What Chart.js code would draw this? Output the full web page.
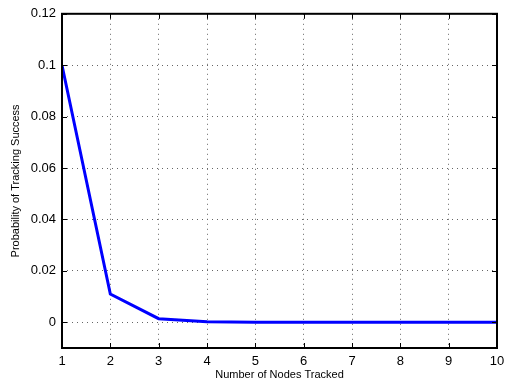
<!DOCTYPE html>
<html>
<head>
<meta charset="utf-8">
<script src="https://cdn.jsdelivr.net/npm/chart.js@4"></script>
<style>
  html, body { margin: 0; padding: 0; background: #fff; }
  #wrap { width: 512px; height: 389px; }
</style>
</head>
<body>
<div id="wrap"><canvas id="chart" width="512" height="389"></canvas></div>
<script>
// data
const nodes = [1, 2, 3, 4, 5, 6, 7, 8, 9, 10];
const success = [0.1, 0.011, 0.0014, 0.0002, 0.00002, 0, 0, 0, 0, 0];
const xTicks = [1, 2, 3, 4, 5, 6, 7, 8, 9, 10];
const yTicks = [0, 0.02, 0.04, 0.06, 0.08, 0.1, 0.12];

// box around plot + inward tick marks, matlab style
const boxPlugin = {
    id: "box",
    afterDraw(chart) {
        const ctx = chart.ctx;
        const a = chart.chartArea;
        const xs = chart.scales.x, ys = chart.scales.y;
        ctx.save();
        ctx.strokeStyle = "#000";
        ctx.lineWidth = 1;
        ctx.setLineDash([]);
        ctx.beginPath();
        xTicks.forEach(v => {
            const px = Math.round(xs.getPixelForValue(v)) + 0.5;
            ctx.moveTo(px, a.bottom); ctx.lineTo(px, a.bottom - 5);
            ctx.moveTo(px, a.top); ctx.lineTo(px, a.top + 5);
        });
        yTicks.forEach(v => {
            const py = Math.round(ys.getPixelForValue(v)) + 0.5;
            ctx.moveTo(a.left, py); ctx.lineTo(a.left + 5, py);
            ctx.moveTo(a.right, py); ctx.lineTo(a.right - 5, py);
        });
        ctx.stroke();
        ctx.lineWidth = 2;
        ctx.strokeRect(a.left, a.top, a.right - a.left, a.bottom - a.top);
        ctx.restore();
    }
};

const font = "'Liberation Sans', Arial, Helvetica, sans-serif";

new Chart(document.getElementById("chart").getContext("2d"), {
    type: "line",
    data: {
        datasets: [{
            data: nodes.map((n, i) => ({ x: n, y: success[i] })),
            borderColor: "#0000ff",
            borderWidth: 3,
            pointRadius: 0,
            tension: 0,
            fill: false
        }]
    },
    options: {
        responsive: false,
        animation: false,
        layout: { padding: { left: 9, right: 15, top: 5, bottom: 0 } },
        plugins: { legend: { display: false }, tooltip: { enabled: false } },
        scales: {
            x: {
                type: "linear",
                min: 1,
                max: 10,
                afterBuildTicks: s => { s.ticks = xTicks.map(v => ({ value: v })); },
                afterFit: s => { s.height = 41; },
                grid: { color: "#666", lineWidth: 1, drawTicks: false, tickLength: 0 },
                border: { display: false, dash: [1, 4] },
                ticks: { color: "#000", font: { family: font, size: 13 }, padding: 6, maxRotation: 0 },
                title: { display: true, text: "Number of Nodes Tracked", color: "#000", font: { family: font, size: 11 }, padding: { top: 0, bottom: 7 } }
            },
            y: {
                type: "linear",
                min: -0.01,
                max: 0.12,
                afterBuildTicks: s => { s.ticks = yTicks.map(v => ({ value: v })); },
                afterFit: s => { s.width = 53; },
                grid: { color: "#666", lineWidth: 1, drawTicks: false, tickLength: 0 },
                border: { display: false, dash: [1, 4] },
                ticks: {
                    color: "#000",
                    font: { family: font, size: 13 },
                    padding: 6,
                    callback: v => String(+v.toFixed(2))
                },
                title: { display: true, text: "Probability of Tracking Success", color: "#000", font: { family: font, size: 11 }, padding: { top: 0, bottom: 4 } }
            }
        }
    },
    plugins: [boxPlugin]
});
</script>
</body>
</html>
